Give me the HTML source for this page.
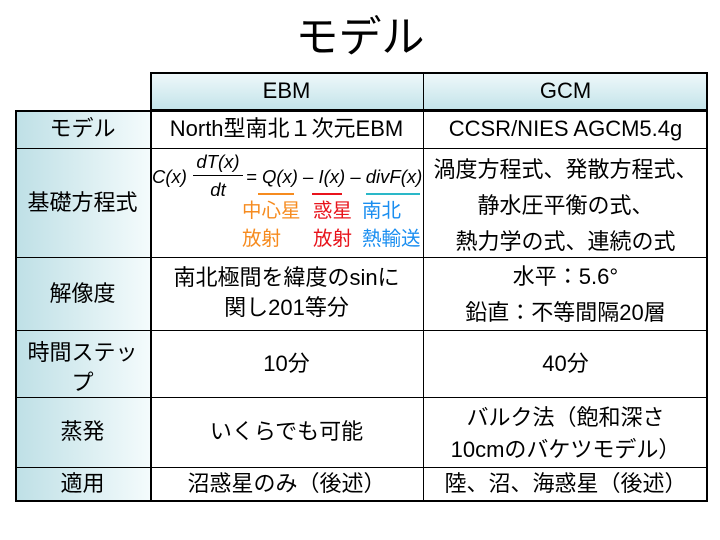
<!DOCTYPE html>
<html><head><meta charset="utf-8"><style>
body{margin:0;width:720px;height:540px;background:#fff;position:relative;overflow:hidden;font-family:"Liberation Sans","Noto Sans CJK JP",sans-serif;color:#000}
.a{position:absolute;box-sizing:border-box}
.t{position:absolute;white-space:nowrap;font-size:22px;line-height:26px;text-align:center}
.hd{background:linear-gradient(#eef8fa,#c4e4ea)}
.lc{background:linear-gradient(90deg,#bfe0e6,#f4fbfc)}
.hl{position:absolute;height:1px;background:#000}
.vl{position:absolute;width:1px;background:#000}
</style></head><body>
<div class="t" style="left:0;width:720px;top:12px;font-size:43px;line-height:52px">モデル</div>
<div class="a hd" style="left:150px;top:72px;width:558px;height:38px;border:2px solid #000;border-bottom:1px solid #000"></div>
<div class="a" style="left:15px;top:110px;width:693px;height:392px;border:2px solid #000"></div>
<div class="a lc" style="left:17px;top:112px;width:133px;height:388px"></div>
<div class="vl" style="left:150px;top:72px;height:430px;width:2px"></div>
<div class="vl" style="left:423px;top:72px;height:430px"></div>
<div class="hl" style="left:15px;top:148px;width:693px"></div>
<div class="hl" style="left:15px;top:257px;width:693px"></div>
<div class="hl" style="left:15px;top:330px;width:693px"></div>
<div class="hl" style="left:15px;top:397px;width:693px"></div>
<div class="hl" style="left:15px;top:467px;width:693px"></div>

<div class="t" style="left:150px;width:273px;top:78px">EBM</div>
<div class="t" style="left:423px;width:285px;top:78px">GCM</div>

<div class="t" style="left:15px;width:135px;top:116px">モデル</div>
<div class="t" style="left:15px;width:135px;top:190px">基礎方程式</div>
<div class="t" style="left:15px;width:135px;top:281px">解像度</div>
<div class="t" style="left:15px;width:135px;top:338px;line-height:30px">時間ステッ<br>プ</div>
<div class="t" style="left:15px;width:135px;top:419px">蒸発</div>
<div class="t" style="left:15px;width:135px;top:471px">適用</div>

<div class="t" style="left:150px;width:273px;top:116px">North型南北１次元EBM</div>
<div class="t" style="left:423px;width:285px;top:116px">CCSR/NIES AGCM5.4g</div>

<div class="t" style="left:152px;top:164px;font-size:18.5px;font-style:italic">C(x)</div>
<div class="t" style="left:193px;top:149px;font-size:18.5px;font-style:italic;width:50px">dT(x)</div>
<div class="hl" style="left:193px;top:175px;width:50px"></div>
<div class="t" style="left:193px;top:177px;font-size:18.5px;font-style:italic;width:50px">dt</div>
<div class="t" style="left:246px;top:164px;font-size:18.5px;font-style:italic">= Q(x) – I(x) – divF(x)</div>
<div class="hl" style="left:258px;top:193px;width:36px;height:2px;background:#f68b1f"></div>
<div class="hl" style="left:312px;top:193px;width:30px;height:2px;background:#e8141c"></div>
<div class="hl" style="left:366px;top:193px;width:54px;height:2px;background:#2ab8c8"></div>
<div class="t" style="left:242px;top:197px;font-size:19.5px;line-height:28px;color:#f68b1f;text-align:left">中心星<br>放射</div>
<div class="t" style="left:313px;top:197px;font-size:19.5px;line-height:28px;color:#e8141c;text-align:left">惑星<br>放射</div>
<div class="t" style="left:362px;top:197px;font-size:19.5px;line-height:28px;color:#1a8ef0;text-align:left">南北<br>熱輸送</div>

<div class="t" style="left:423px;width:285px;top:152px;line-height:36px">渦度方程式、発散方程式、<br>静水圧平衡の式、<br>熱力学の式、連続の式</div>

<div class="t" style="left:150px;width:273px;top:263px;line-height:30px">南北極間を緯度のsinに<br>関し201等分</div>
<div class="t" style="left:423px;width:285px;top:259px;line-height:36px">水平：5.6°<br>鉛直：不等間隔20層</div>

<div class="t" style="left:150px;width:273px;top:351px">10分</div>
<div class="t" style="left:423px;width:285px;top:351px">40分</div>

<div class="t" style="left:150px;width:273px;top:419px">いくらでも可能</div>
<div class="t" style="left:423px;width:285px;top:402px;line-height:32px">バルク法（飽和深さ<br>10cmのバケツモデル）</div>

<div class="t" style="left:150px;width:273px;top:471px">沼惑星のみ（後述）</div>
<div class="t" style="left:423px;width:285px;top:471px">陸、沼、海惑星（後述）</div>
</body></html>
